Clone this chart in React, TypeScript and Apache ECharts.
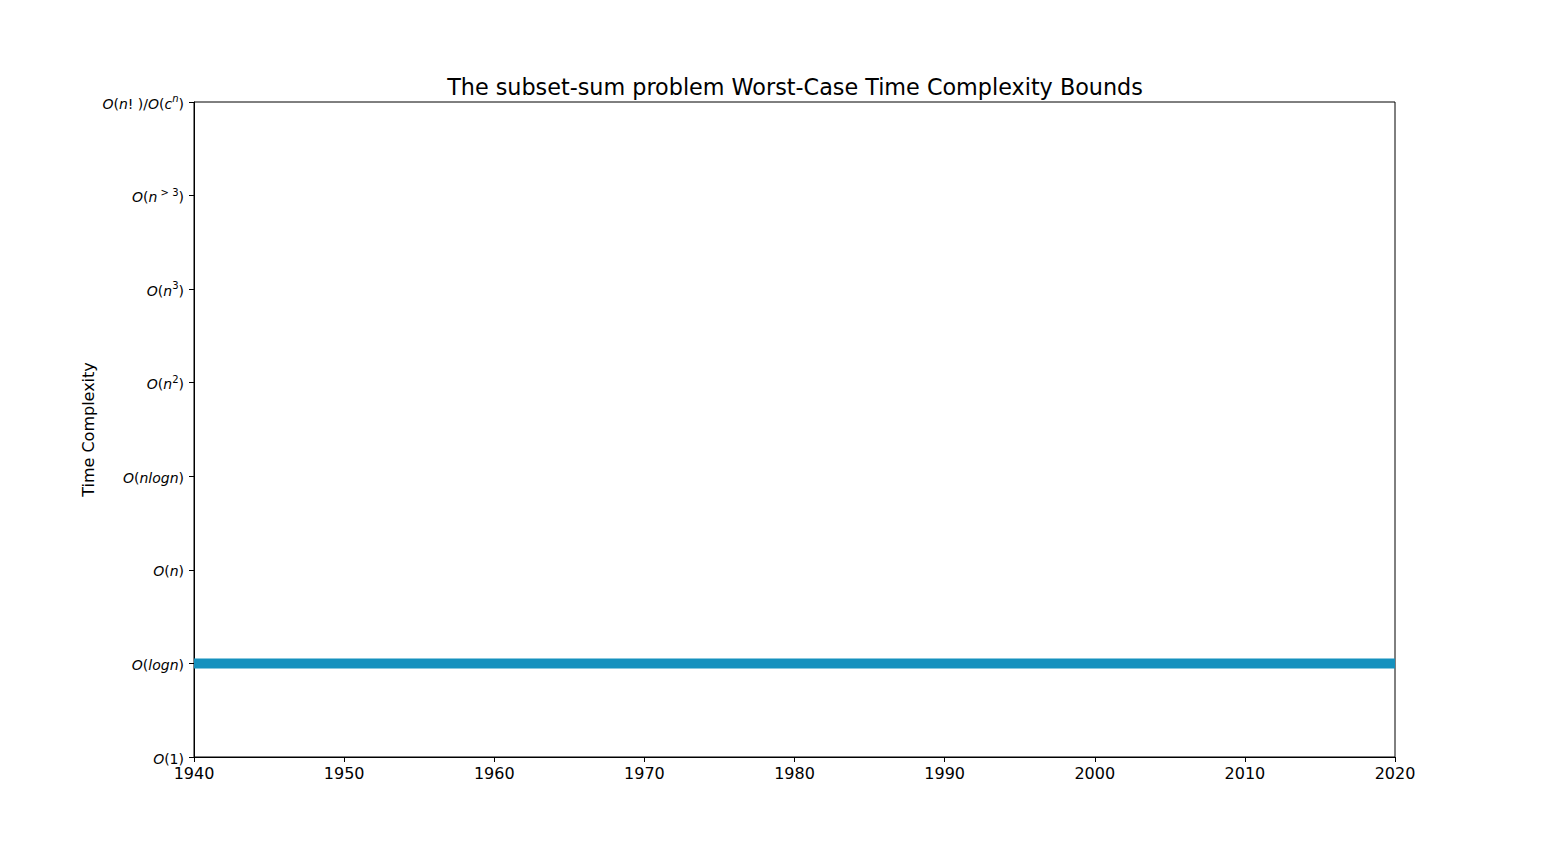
import React, { useEffect, useRef } from "react";
import * as echarts from "echarts";

const years = [1940, 2020];
const complexity = [1, 1];
// rich-text label fragments per category: [style, text]
const complexityLabels: [string, string][][] = [
  [["i", "O"], ["r", "(1)"]],
  [["i", "O"], ["r", "("], ["i", "logn"], ["r", ")"]],
  [["i", "O"], ["r", "("], ["i", "n"], ["r", ")"]],
  [["i", "O"], ["r", "("], ["i", "nlogn"], ["r", ")"]],
  [["i", "O"], ["r", "("], ["i", "n"], ["s", "2"], ["r", ")"]],
  [["i", "O"], ["r", "("], ["i", "n"], ["s", "3"], ["r", ")"]],
  [["i", "O"], ["r", "("], ["i", "n"], ["s", " > 3"], ["r", ")"]],
  [["i", "O"], ["r", "("], ["i", "n"], ["r", "! )/"], ["i", "O"], ["r", "("], ["i", "c"], ["si", "n"], ["r", ")"]],
];
const xTicks = [1940, 1950, 1960, 1970, 1980, 1990, 2000, 2010, 2020];

const FONT = "DejaVu Sans";

export default function App() {
  const ref = useRef<HTMLDivElement>(null);
  useEffect(() => {
    const chart = echarts.init(ref.current!, null, { renderer: "svg" });
    chart.setOption({
      animation: false,
      backgroundColor: "#ffffff",
      title: {
        text: "The subset-sum problem Worst-Case Time Complexity Bounds",
        left: 790,
        textAlign: "center",
        top: 71,
        textStyle: { fontFamily: FONT, fontSize: 22.3, fontWeight: "normal", color: "#000" },
      },
      grid: {
        left: 194,
        top: 102,
        width: 1201,
        height: 655,
        show: true,
        borderColor: "#000",
        borderWidth: 1,
        backgroundColor: "transparent",
        containLabel: false,
      },
      xAxis: {
        type: "value",
        min: xTicks[0],
        max: xTicks[xTicks.length - 1],
        interval: 10,
        axisLine: { show: true, lineStyle: { color: "#000", width: 1 } },
        axisTick: { show: true, length: 5, lineStyle: { color: "#000" } },
        axisLabel: {
          fontFamily: FONT,
          fontSize: 16,
          color: "#000",
          margin: 8,
          formatter: (v: number) => String(v),
        },
        splitLine: { show: false },
      },
      yAxis: {
        type: "value",
        min: 0,
        max: complexityLabels.length - 1,
        interval: 1,
        name: "Time Complexity",
        nameLocation: "middle",
        nameGap: 98,
        nameMoveOverlap: false,
        nameRotate: 90,
        nameTextStyle: { fontFamily: FONT, fontSize: 16, color: "#000" },
        axisLine: { show: true, lineStyle: { color: "#000", width: 1 } },
        axisTick: { show: true, length: 5, lineStyle: { color: "#000" } },
        splitLine: { show: false },
        axisLabel: {
          margin: 10,
          formatter: (v: number) => {
            const parts = complexityLabels[Math.round(v)];
            if (!parts) return "";
            return parts.map(([s, t]) => `{${s}|${t}}`).join("");
          },
          rich: {
            i: { fontFamily: FONT, fontSize: 14, fontStyle: "italic", color: "#000", lineHeight: 17, verticalAlign: "bottom" },
            r: { fontFamily: FONT, fontSize: 14, color: "#000", lineHeight: 17, verticalAlign: "bottom" },
            s: { fontFamily: FONT, fontSize: 10, color: "#000", lineHeight: 10, verticalAlign: "top" },
            si: { fontFamily: FONT, fontSize: 10, fontStyle: "italic", color: "#000", lineHeight: 10, verticalAlign: "top" },
          },
        },
      },
      series: [
        {
          type: "line",
          data: years.map((y, i) => [y, complexity[i]]),
          symbol: "none",
          lineStyle: { color: "#1591be", width: 10, cap: "butt" },
          clip: true,
        },
      ],
    });
    return () => chart.dispose();
  }, []);
  return (
    <div
      ref={ref}
      style={{ position: "absolute", left: 0, top: 0, width: 1550, height: 850 }}
    />
  );
}
